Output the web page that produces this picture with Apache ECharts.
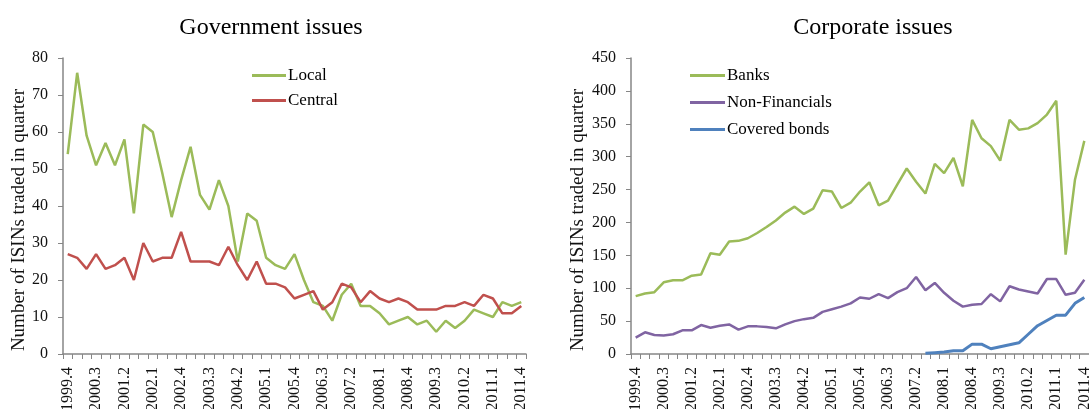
<!DOCTYPE html>
<html>
<head>
<meta charset="utf-8">
<script src="https://cdn.jsdelivr.net/npm/echarts@6/dist/echarts.min.js"></script>
<style>
html,body{margin:0;padding:0;background:#fff;}
#c{width:1089px;height:409px;}
</style>
</head>
<body>
<div id="c"></div>
<script>
const quarters = [];
for (let y = 1999; y <= 2011; y++) {
  for (let q = 1; q <= 4; q++) {
    if (y === 1999 && q < 4) continue;
    quarters.push(y + '.' + q);
  }
}
const local = [54,76,59,51,57,51,58,38,62,60,49,37,47,56,43,39,47,40,25,38,36,26,24,23,27,20,14,13,9,16,19,13,13,11,8,9,10,8,9,6,9,7,9,12,11,10,14,13,14];
const central = [27,26,23,27,23,24,26,20,30,25,26,26,33,25,25,25,24,29,24,20,25,19,19,18,15,16,17,12,14,19,18,14,17,15,14,15,14,12,12,12,13,13,14,13,16,15,11,11,13];
const banks = [88,92,94,109,112,112,119,121,153,151,171,172,176,184,193,203,215,224,213,221,249,247,222,230,247,261,226,233,258,282,262,244,289,275,298,255,356,328,316,294,356,341,343,351,364,385,151,265,324];
const nonFin = [25,33,29,28,30,36,36,44,40,43,45,37,42,42,41,39,45,50,53,55,64,68,72,77,86,84,91,85,94,100,117,97,108,93,81,72,75,76,91,80,103,98,95,92,114,114,90,93,113];
const covered = [null,null,null,null,null,null,null,null,null,null,null,null,null,null,null,null,null,null,null,null,null,null,null,null,null,null,null,null,null,null,null,1,2,3,5,5,15,15,8,11,14,17,30,43,51,59,59,77,86];

const FONT = '"Liberation Serif", "DejaVu Serif", serif';
const axisColor = '#868686';

function xAxis(gridIndex) {
  return {
    type: 'category', gridIndex, data: quarters, boundaryGap: true,
    axisLine: {lineStyle: {color: axisColor, width: 1.5}},
    axisTick: {show: true, interval: 0, length: 5, lineStyle: {color: axisColor}},
    axisLabel: {interval: 2, rotate: 90, fontFamily: FONT, fontSize: 16, color: '#111', margin: 13}
  };
}
function yAxis(gridIndex, max, interval, nameGap) {
  return {
    type: 'value', gridIndex, min: 0, max, interval,
    name: 'Number of ISINs traded in quarter', nameLocation: 'middle', nameGap,
    nameTextStyle: {fontFamily: FONT, fontSize: 19, color: '#111', padding: [0, 28, 0, 0]},
    splitLine: {show: false},
    axisLine: {show: true, lineStyle: {color: axisColor, width: 1.5}},
    axisTick: {show: true, length: 5, lineStyle: {color: axisColor}},
    axisLabel: {fontFamily: FONT, fontSize: 16, color: '#111', margin: 15}
  };
}
function line(name, data, color, xi, width) {
  return {
    name, type: 'line', data, xAxisIndex: xi, yAxisIndex: xi,
    symbol: 'none', connectNulls: false,
    lineStyle: {color, width: width || 2.5}, itemStyle: {color}, animation: false
  };
}
const legendText = {fontFamily: FONT, fontSize: 17, color: '#000', lineHeight: 17, padding: [0, 0, 0, -3]};

const chart = echarts.init(document.getElementById('c'));
chart.setOption({
  animation: false,
  title: [
    {text: 'Government issues', left: 266, top: 11, textAlign: 'center',
     textStyle: {fontFamily: FONT, fontSize: 24, fontWeight: 'normal', color: '#000'}},
    {text: 'Corporate issues', left: 868, top: 11, textAlign: 'center',
     textStyle: {fontFamily: FONT, fontSize: 24, fontWeight: 'normal', color: '#000'}}
  ],
  legend: [
    {data: ['Local', 'Central'], orient: 'vertical', left: 252, top: 67, padding: 0,
     icon: 'rect', itemWidth: 34, itemHeight: 3, itemGap: 8, textStyle: legendText},
    {data: ['Banks', 'Non-Financials', 'Covered bonds'], orient: 'vertical', left: 690, top: 67, padding: 0,
     icon: 'rect', itemWidth: 35, itemHeight: 3, itemGap: 10, textStyle: legendText}
  ],
  grid: [
    {left: 63, right: 563, top: 58, bottom: 55, containLabel: false, outerBoundsMode: 'none'},
    {left: 631, right: 0, top: 58, bottom: 55, containLabel: false, outerBoundsMode: 'none'}
  ],
  xAxis: [xAxis(0), xAxis(1)],
  yAxis: [yAxis(0, 80, 10, 32), yAxis(1, 450, 50, 43)],
  series: [
    line('Local', local, '#9BBB59', 0),
    line('Central', central, '#C0504D', 0),
    line('Banks', banks, '#9BBB59', 1),
    line('Non-Financials', nonFin, '#8064A2', 1),
    line('Covered bonds', covered, '#4F81BD', 1, 3)
  ]
});
</script>
</body>
</html>
